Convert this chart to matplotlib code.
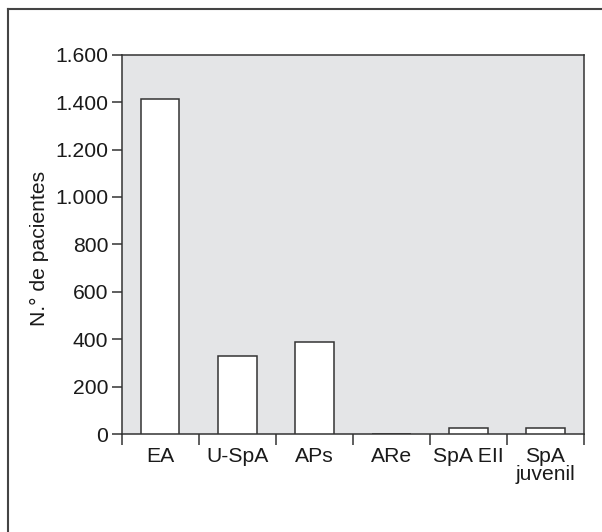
import matplotlib
matplotlib.use("Agg")
import matplotlib.pyplot as plt
from matplotlib.lines import Line2D
from matplotlib.ticker import FuncFormatter
import numpy as np

categories = ["EA", "U-SpA", "APs", "ARe", "SpA EII", "SpA\njuvenil"]
values = [1412, 331, 388, 0, 27, 27]
yticks = [0, 200, 400, 600, 800, 1000, 1200, 1400, 1600]
ylabel = "N.° de pacientes"

plt.rcParams['font.family'] = ['Liberation Sans', 'DejaVu Sans']
plt.rcParams['font.size'] = 15.2

W, H = 602, 532
fig = plt.figure(figsize=(W / 100, H / 100), dpi=100)
L, R, T, B = 121.7, 584, 54.7, 434
ax = fig.add_axes([L / W, 1 - B / H, (R - L) / W, (B - T) / H])

dark = "#333333"
ax.set_facecolor("#e4e5e7")
x = np.arange(len(categories))
ax.bar(x, values, width=0.5, color="white", edgecolor=dark, linewidth=1.1, zorder=3)

ax.set_xlim(-0.5, len(categories) - 0.5)
ax.set_ylim(0, 1600)
ax.set_yticks(yticks)
ax.yaxis.set_major_formatter(FuncFormatter(lambda v, p: f"{int(v):,}".replace(",", ".")))
ax.set_xticks(x)
ax.set_xticklabels(categories, linespacing=0.95)
ax.set_xticks(np.arange(-0.5, len(categories)), minor=True)
ax.tick_params(axis="x", which="major", length=0, pad=9, colors="#1a1a1a")
ax.tick_params(axis="x", which="minor", length=8, width=1.1, color=dark)
ax.tick_params(axis="y", which="major", length=7.2, width=1.1, color=dark, pad=2.5, labelcolor="#1a1a1a")

for s in ax.spines.values():
    s.set_color(dark)
    s.set_linewidth(1.1)

ax.set_ylabel(ylabel, color="#1a1a1a")
ax.yaxis.set_label_coords(-0.157, 0.49)

frame_c = "#444444"
fig.add_artist(Line2D([8 / W, 1], [1 - 8.5 / H, 1 - 8.5 / H], color=frame_c, lw=1.5, transform=fig.transFigure))
fig.add_artist(Line2D([8 / W, 8 / W], [0, 1 - 8.5 / H], color=frame_c, lw=1.5, transform=fig.transFigure))

fig.savefig("out.png", dpi=100)
